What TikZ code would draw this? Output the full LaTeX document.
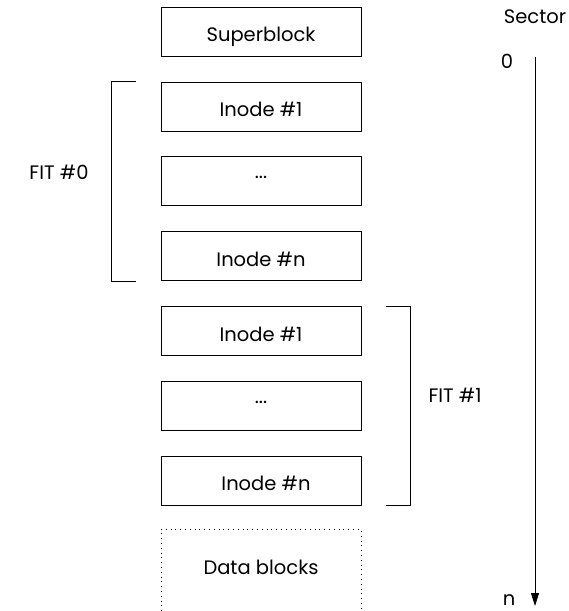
\documentclass[tikz,border=0pt]{standalone}
\usepackage{fontspec}
\setmainfont{Poppins}
\usetikzlibrary{arrows.meta}
\begin{document}
\begin{tikzpicture}[x=1pt,y=-1pt,
        block/.style={draw,line width=0.8pt,minimum width=200pt,minimum height=49pt,inner sep=0pt,text height=20pt,text depth=0pt},
        dotsblock/.style={block,text height=0pt,text depth=6pt},
        datablock/.style={draw,dash pattern=on 0.8pt off 4pt,line width=0.8pt,minimum width=200pt,minimum height=100pt,inner sep=0pt,text height=20pt,text depth=30pt},
        every node/.append style={font=\fontsize{19.5}{23}\selectfont}]
        \useasboundingbox (0,0) rectangle (569,611);
        % layout on disk
        \node[block] (super) at (261,31.5) {Superblock};
        \node[block] (a1) at (261,106.5) {Inode \#1};
        \node[dotsblock] (adots) at (261,181) {...};
        \node[block] (an) at (261,256) {Inode \#n};
        \node[block] (b1) at (261,331) {Inode \#1};
        \node[dotsblock] (bdots) at (261,406) {...};
        \node[block] (bn) at (261,480.5) {\hspace{10pt}Inode \#n};
        \node[datablock,anchor=north] (data) at (261,529) {Data blocks};
        % groups
        \draw[line width=0.8pt] ([xshift=-25pt]a1.north west) -- ++(-24,0) |- ([xshift=-25pt]an.south west);
        \draw[line width=0.8pt] ([xshift=25pt]b1.north east) -- ++(24,0) |- ([xshift=25pt]bn.south east);
        \node (fit0) at (59,172) {FIT \#0};
        \node (fit1) at (455,395) {FIT \#1};
        % sectors
        \node (sector) at (535,17) {Sector};
        \node (zero) at (507,61) {0};
        \node (nn) at (509,600) {n};
        \coordinate (s0) at (535,57);
        \coordinate (sn) at (535,606);
        \draw[line width=0.8pt,-{Triangle[length=13pt,width=8pt]}] (s0) -- (sn);
\end{tikzpicture}
\end{document}
